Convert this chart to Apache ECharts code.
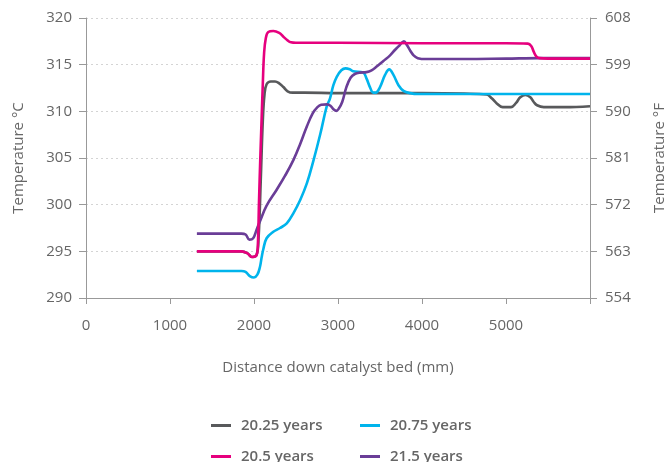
<!DOCTYPE html>
<html>
<head>
<meta charset="utf-8">
<script src="https://cdn.jsdelivr.net/npm/echarts@6/dist/echarts.min.js"></script>
<style>html,body{margin:0;padding:0;background:#fff;}#c{width:664px;height:462px;}</style>
</head>
<body>
<div id="c"></div>
<script>
// ---- data ----
const xTicks = [0, 1000, 2000, 3000, 4000, 5000];
const celsiusTicks = [290, 295, 300, 305, 310, 315, 320];
const fahrenheitLabels = ['554', '563', '572', '581', '590', '599', '608'];

const seriesNames = ['20.25 years', '20.5 years', '20.75 years', '21.5 years'];

const gray_x = [1320, 1850, 1920, 1975, 2030, 2055, 2080, 2105, 2125, 2150, 2200, 2250, 2300, 2350, 2400, 2460, 2600, 3000, 3500, 4000, 4500, 4770, 4830, 4890, 4960, 5060, 5120, 5170, 5230, 5290, 5330, 5370, 5450, 5700, 6000];
const gray_y = [295.0, 295.0, 294.8, 294.4, 294.6, 296.5, 302.5, 309.0, 311.8, 312.9, 313.2, 313.2, 313.0, 312.6, 312.15, 312.0, 312.0, 311.95, 311.95, 311.95, 311.9, 311.8, 311.4, 310.85, 310.45, 310.45, 310.9, 311.5, 311.75, 311.5, 311.0, 310.65, 310.45, 310.45, 310.55];

const pink_x = [1320, 1850, 1920, 1975, 2030, 2045, 2060, 2075, 2090, 2105, 2120, 2140, 2170, 2230, 2300, 2350, 2400, 2440, 2500, 3000, 4000, 5000, 5260, 5300, 5330, 5360, 5400, 5500, 6000];
const pink_y = [295.0, 295.0, 294.8, 294.4, 294.6, 295.5, 300.5, 305.0, 309.0, 313.0, 316.2, 317.8, 318.5, 318.6, 318.4, 318.0, 317.6, 317.4, 317.35, 317.35, 317.3, 317.3, 317.25, 317.0, 316.4, 315.9, 315.7, 315.65, 315.65];

const cyan_x = [1320, 1850, 1900, 1950, 2000, 2040, 2070, 2090, 2110, 2150, 2230, 2310, 2390, 2470, 2550, 2630, 2710, 2790, 2865, 2905, 2945, 2985, 3040, 3090, 3140, 3180, 3300, 3340, 3380, 3420, 3450, 3500, 3560, 3610, 3660, 3720, 3780, 3860, 3950, 4200, 5000, 6000];
const cyan_y = [292.9, 292.9, 292.8, 292.35, 292.2, 292.5, 293.3, 294.3, 295.2, 296.4, 297.1, 297.5, 298.0, 299.1, 300.5, 302.3, 304.8, 307.6, 310.5, 311.4, 312.8, 313.7, 314.4, 314.6, 314.5, 314.3, 314.15, 313.5, 312.6, 312.0, 312.0, 312.6, 313.9, 314.5, 313.9, 312.8, 312.2, 311.95, 311.85, 311.85, 311.85, 311.85];

const purple_x = [1320, 1850, 1900, 1945, 1990, 2030, 2070, 2150, 2270, 2370, 2470, 2550, 2630, 2700, 2750, 2800, 2870, 2910, 2950, 2980, 3010, 3050, 3100, 3150, 3200, 3260, 3340, 3400, 3460, 3540, 3620, 3680, 3720, 3760, 3785, 3820, 3860, 3900, 3950, 4050, 4500, 5000, 5400, 6000];
const purple_y = [296.9, 296.9, 296.8, 296.25, 296.4, 297.3, 298.2, 299.9, 301.6, 303.1, 304.8, 306.5, 308.4, 309.8, 310.4, 310.7, 310.75, 310.6, 310.2, 310.05, 310.3, 311.0, 312.6, 313.6, 314.0, 314.15, 314.2, 314.4, 314.8, 315.4, 316.0, 316.6, 316.95, 317.35, 317.5, 317.1, 316.5, 316.0, 315.7, 315.6, 315.6, 315.65, 315.7, 315.7];

const colors = {
  '20.25 years': '#58595b',
  '20.5 years': '#e6007e',
  '20.75 years': '#00b4ec',
  '21.5 years': '#6a3d97'
};

// ---- chart ----
const FONT = 'Open Sans';
const zip = (xs, ys) => xs.map((x, i) => [x, ys[i]]);

function lineSeries(name, xs, ys) {
  return {
    name: name,
    type: 'line',
    data: zip(xs, ys),
    smooth: 0.4,
    showSymbol: false,
    symbol: 'none',
    lineStyle: { width: 2.6, color: colors[name] },
    itemStyle: { color: colors[name] },
    emphasis: { disabled: true },
    animation: false
  };
}

function legendAt(name, left, top) {
  return {
    data: [name],
    left: left,
    top: top,
    padding: 0,
    icon: 'rect',
    itemWidth: 20,
    itemHeight: 3,
    selectedMode: false,
    textStyle: { fontFamily: FONT, fontSize: 15, fontWeight: 600, color: '#666', padding: [0, 0, 0, 5] }
  };
}

const axisColor = '#999';
const labelStyle = { fontFamily: FONT, fontSize: 15, color: '#666' };

const option = {
  animation: false,
  grid: { left: 86, right: 74, top: 18, bottom: 164, containLabel: false, outerBoundsMode: 'none' },
  legend: [
    legendAt('20.25 years', 211, 418),
    legendAt('20.75 years', 360, 418),
    legendAt('20.5 years', 211, 449),
    legendAt('21.5 years', 360, 449)
  ],
  xAxis: {
    type: 'value',
    min: 0,
    max: 6000,
    interval: 1000,
    name: 'Distance down catalyst bed (mm)',
    nameLocation: 'middle',
    nameGap: 62,
    nameTextStyle: { fontFamily: FONT, fontSize: 15, color: '#666' },
    axisLine: { show: true, lineStyle: { color: axisColor, width: 1 } },
    axisTick: { show: true, length: 6, lineStyle: { color: axisColor } },
    axisLabel: Object.assign({ margin: 20, formatter: v => (xTicks.indexOf(v) >= 0 ? String(v) : '') }, labelStyle),
    splitLine: { show: false }
  },
  yAxis: [
    {
      type: 'value',
      position: 'left',
      min: celsiusTicks[0],
      max: celsiusTicks[celsiusTicks.length - 1],
      interval: 5,
      name: 'Temperature °C',
      nameLocation: 'middle',
      nameGap: 60,
      nameRotate: 90,
      nameTextStyle: { fontFamily: FONT, fontSize: 15, color: '#666' },
      axisLine: { show: true, lineStyle: { color: axisColor, width: 1 } },
      axisTick: { show: true, length: 7, lineStyle: { color: axisColor } },
      axisLabel: Object.assign({ margin: 14 }, labelStyle),
      splitLine: { show: true, lineStyle: { color: '#d4d4d4', type: [2, 3], width: 1 } }
    },
    {
      type: 'value',
      position: 'right',
      min: celsiusTicks[0],
      max: celsiusTicks[celsiusTicks.length - 1],
      interval: 5,
      name: 'Temperature °F',
      nameLocation: 'middle',
      nameGap: 62,
      nameRotate: 90,
      nameTextStyle: { fontFamily: FONT, fontSize: 15, color: '#666' },
      axisLine: { show: true, lineStyle: { color: axisColor, width: 1 } },
      axisTick: { show: true, length: 7, lineStyle: { color: axisColor } },
      axisLabel: Object.assign({
        margin: 15,
        formatter: v => { const i = celsiusTicks.indexOf(v); return i >= 0 ? fahrenheitLabels[i] : ''; }
      }, labelStyle),
      splitLine: { show: false }
    }
  ],
  series: [
    lineSeries('20.25 years', gray_x, gray_y),
    lineSeries('20.75 years', cyan_x, cyan_y),
    lineSeries('21.5 years', purple_x, purple_y),
    lineSeries('20.5 years', pink_x, pink_y)
  ]
};

const chart = echarts.init(document.getElementById('c'), null, { renderer: 'canvas' });
chart.setOption(option);
</script>
</body>
</html>
